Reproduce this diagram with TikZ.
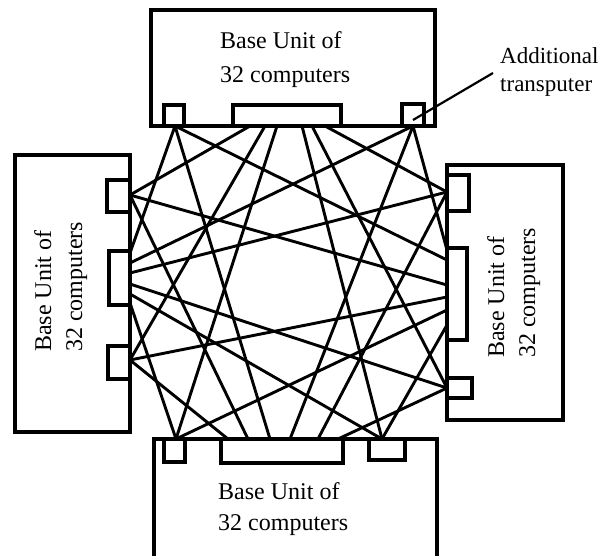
\documentclass[tikz,border=0pt]{standalone}
\usepackage{fontspec}
\setmainfont{Liberation Serif}
\begin{document}
\begin{tikzpicture}[x=1pt,y=-1pt,
  unitbox/.style={line width=3.8pt},
  portbox/.style={line width=3.3pt},
  link/.style={line width=2.9pt},
  leader/.style={line width=2.2pt},
  lbl/.style={inner sep=0pt, align=left, font=\fontsize{24}{31}\selectfont}]
\useasboundingbox (0,0) rectangle (608,555);
\fill[white] (0,0) rectangle (608,555);

% port coordinates: corner transputers
\coordinate (T1) at (175,126);
\coordinate (T2) at (413,126);
\coordinate (L1) at (130,195);
\coordinate (L2) at (130,360);
\coordinate (R1) at (447,192);
\coordinate (R2) at (447,388);
\coordinate (B1) at (176,439);
\coordinate (B2) at (382,439);
% middle links, top unit
\coordinate (tL1) at (250,126);
\coordinate (tL2) at (265,126);
\coordinate (tB1) at (277,126);
\coordinate (tB2) at (302,126);
\coordinate (tR2) at (312,126);
\coordinate (tR1) at (325,126);
% left unit
\coordinate (lT1) at (130,253);
\coordinate (lT2) at (130,263);
\coordinate (lR1) at (130,273);
\coordinate (lR2) at (130,284);
\coordinate (lB2) at (130,294);
\coordinate (lB1) at (130,303);
% right unit
\coordinate (rT2) at (447,250);
\coordinate (rT1) at (447,260);
\coordinate (rL1) at (447,285);
\coordinate (rL2) at (447,297);
\coordinate (rB1) at (447,310);
\coordinate (rB2) at (447,325);
% bottom unit
\coordinate (bL2) at (228,439);
\coordinate (bL1) at (248,439);
\coordinate (bT1) at (270,439);
\coordinate (bT2) at (290,439);
\coordinate (bR1) at (318,439);
\coordinate (bR2) at (338,439);

% links
\foreach \a/\b in {T1/lT1,T1/rT1,T1/bT1,T2/lT2,T2/rT2,T2/bT2,
                   L1/tL1,L1/rL1,L1/bL1,L2/tL2,L2/rL2,L2/bL2,
                   R1/tR1,R1/lR1,R1/bR1,R2/tR2,R2/lR2,R2/bR2,
                   B1/tB1,B1/lB1,B1/rB1,B2/tB2,B2/lB2,B2/rB2}
  \draw[link] (\a) -- (\b);

% top unit
\draw[unitbox] (151,10) rectangle (435,126);
\draw[portbox] (164,105) rectangle (184,126);
\draw[portbox] (233,105) rectangle (341,126);
\draw[portbox] (402,104) rectangle (424,126);
\node[lbl, anchor=north west, font=\fontsize{24}{34}\selectfont] (topunit) at (220,31) {Base Unit of\\32 computers};

% left unit
\draw[unitbox] (15,155) rectangle (130,432);
\draw[portbox] (107,180) rectangle (130,212);
\draw[portbox] (109,251) rectangle (130,305);
\draw[portbox] (108,346) rectangle (130,379);
\node[lbl, rotate=90, anchor=north west] (leftunit) at (34,352) {Base Unit of\\32 computers};

% right unit
\draw[unitbox] (447,165) rectangle (563,420);
\draw[portbox] (447,175) rectangle (469,211);
\draw[portbox] (447,248) rectangle (467,340);
\draw[portbox] (447,378) rectangle (472,398);
\node[lbl, rotate=90, anchor=north west] (rightunit) at (487,358) {Base Unit of\\32 computers};

% bottom unit
\draw[unitbox] (154,439) rectangle (437,575);
\draw[portbox] (164,439) rectangle (185,462);
\draw[portbox] (221,439) rectangle (343,463);
\draw[portbox] (369,439) rectangle (405,460);
\node[lbl, anchor=north west] (botunit) at (218,482) {Base Unit of\\32 computers};

% additional transputer label
\node[lbl, anchor=north west, font=\fontsize{23}{28}\selectfont] (addl) at (500,47) {Additional\\transputer};
\coordinate (leadA) at (493,73);
\coordinate (leadB) at (413,120);
\draw[leader] (leadA) -- (leadB);
\end{tikzpicture}
\end{document}
